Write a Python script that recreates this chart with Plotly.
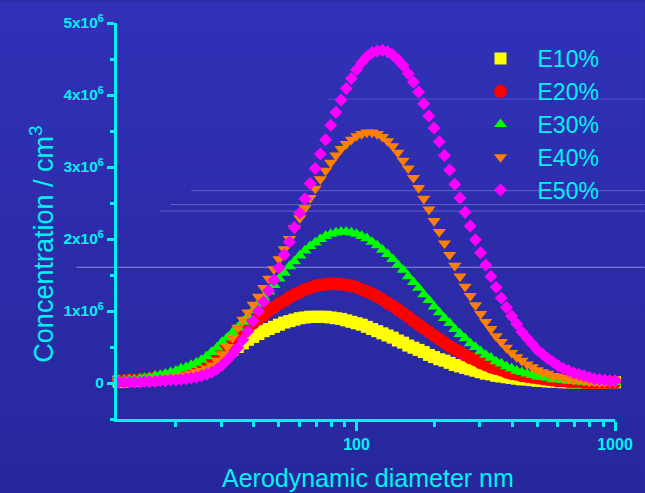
import plotly.graph_objects as go

# ---------------- data (concentration in units of 10^6 per cm3) ----------------
diameter_nm = [12.0, 12.6, 13.2, 13.8, 14.5, 15.1, 15.8, 16.6, 17.4, 18.2, 19.1, 20.0, 20.9, 21.9,
               22.9, 24.0, 25.1, 26.3, 27.5, 28.8, 30.2, 31.6, 33.1, 34.7, 36.3, 38.0, 39.8, 41.7,
               43.7, 45.7, 47.9, 50.1, 52.5, 55.0, 57.5, 60.3, 63.1, 66.1, 69.2, 72.4, 75.9, 79.4,
               83.2, 87.1, 91.2, 95.5, 100.0, 104.7, 109.6, 114.8, 120.2, 125.9, 131.8, 138.0,
               144.5, 151.4, 158.5, 166.0, 173.8, 182.0, 190.5, 199.5, 208.9, 218.8, 229.1, 239.9,
               251.2, 263.0, 275.4, 288.4, 302.0, 316.2, 331.1, 346.7, 363.1, 380.2, 398.1, 416.9,
               436.5, 457.1, 478.6, 501.2, 524.8, 549.5, 575.4, 602.6, 631.0, 660.7, 691.8, 724.4,
               758.6, 794.3, 831.8, 871.0, 912.0, 955.0, 1000.0]

e10 = [0.02, 0.02, 0.03, 0.03, 0.04, 0.04, 0.05, 0.05, 0.06, 0.07, 0.08, 0.09, 0.10, 0.12, 0.14,
       0.16, 0.19, 0.22, 0.26, 0.31, 0.37, 0.42, 0.46, 0.50, 0.55, 0.60, 0.64, 0.68, 0.72, 0.75,
       0.78, 0.81, 0.84, 0.86, 0.88, 0.90, 0.91, 0.92, 0.92, 0.92, 0.92, 0.91, 0.90, 0.89, 0.87,
       0.85, 0.83, 0.81, 0.78, 0.75, 0.72, 0.69, 0.66, 0.63, 0.59, 0.56, 0.52, 0.49, 0.46, 0.43,
       0.39, 0.36, 0.33, 0.31, 0.28, 0.25, 0.23, 0.21, 0.19, 0.17, 0.15, 0.13, 0.12, 0.10, 0.09,
       0.08, 0.07, 0.06, 0.05, 0.05, 0.04, 0.03, 0.03, 0.02, 0.02, 0.02, 0.01, 0.01, 0.01, 0.01,
       0.01, 0.01, 0.01, 0.01, 0.01, 0.01, 0.01]

e20 = [0.03, 0.03, 0.04, 0.04, 0.05, 0.05, 0.06, 0.07, 0.08, 0.09, 0.10, 0.12, 0.14, 0.16, 0.18,
       0.21, 0.25, 0.30, 0.35, 0.41, 0.47, 0.53, 0.59, 0.65, 0.71, 0.77, 0.83, 0.89, 0.94, 1.00,
       1.05, 1.10, 1.14, 1.19, 1.23, 1.26, 1.30, 1.32, 1.35, 1.36, 1.37, 1.38, 1.38, 1.37, 1.36,
       1.35, 1.33, 1.30, 1.27, 1.24, 1.20, 1.16, 1.11, 1.07, 1.02, 0.97, 0.92, 0.86, 0.81, 0.76,
       0.71, 0.66, 0.61, 0.56, 0.51, 0.47, 0.43, 0.39, 0.35, 0.32, 0.28, 0.25, 0.22, 0.20, 0.18,
       0.15, 0.13, 0.12, 0.10, 0.09, 0.08, 0.07, 0.06, 0.05, 0.04, 0.03, 0.03, 0.02, 0.02, 0.02,
       0.01, 0.01, 0.01, 0.01, 0.01, 0.01, 0.01]

e30 = [0.04, 0.04, 0.05, 0.05, 0.06, 0.07, 0.08, 0.10, 0.11, 0.13, 0.15, 0.17, 0.20, 0.22, 0.25,
       0.28, 0.32, 0.37, 0.43, 0.49, 0.57, 0.63, 0.70, 0.77, 0.85, 0.93, 1.01, 1.10, 1.19, 1.27,
       1.36, 1.45, 1.53, 1.62, 1.69, 1.77, 1.84, 1.90, 1.95, 2.00, 2.04, 2.07, 2.09, 2.10, 2.10,
       2.09, 2.07, 2.04, 2.01, 1.96, 1.91, 1.85, 1.79, 1.72, 1.64, 1.57, 1.48, 1.40, 1.32, 1.23,
       1.15, 1.06, 0.98, 0.90, 0.83, 0.75, 0.68, 0.62, 0.55, 0.50, 0.44, 0.39, 0.35, 0.30, 0.27,
       0.23, 0.20, 0.17, 0.15, 0.13, 0.11, 0.09, 0.08, 0.07, 0.05, 0.05, 0.04, 0.03, 0.03, 0.02,
       0.02, 0.01, 0.01, 0.01, 0.01, 0.01, 0.01]

e40 = [0.02, 0.02, 0.02, 0.03, 0.03, 0.04, 0.04, 0.05, 0.06, 0.07, 0.08, 0.09, 0.10, 0.11, 0.13,
       0.15, 0.17, 0.20, 0.24, 0.31, 0.40, 0.50, 0.63, 0.77, 0.88, 0.98, 1.09, 1.20, 1.32, 1.45,
       1.58, 1.72, 1.86, 2.00, 2.15, 2.29, 2.43, 2.57, 2.70, 2.83, 2.95, 3.06, 3.16, 3.25, 3.32,
       3.38, 3.43, 3.46, 3.48, 3.48, 3.46, 3.42, 3.36, 3.29, 3.20, 3.09, 2.98, 2.85, 2.71, 2.56,
       2.41, 2.25, 2.10, 1.94, 1.78, 1.63, 1.48, 1.34, 1.21, 1.08, 0.96, 0.85, 0.75, 0.65, 0.57,
       0.49, 0.42, 0.36, 0.31, 0.26, 0.22, 0.18, 0.15, 0.13, 0.10, 0.09, 0.07, 0.06, 0.05, 0.04,
       0.03, 0.02, 0.02, 0.01, 0.01, 0.01, 0.01]

e50 = [0.01, 0.01, 0.01, 0.01, 0.01, 0.02, 0.02, 0.02, 0.03, 0.03, 0.04, 0.04, 0.05, 0.06, 0.07,
       0.08, 0.10, 0.12, 0.15, 0.19, 0.25, 0.32, 0.40, 0.49, 0.60, 0.72, 0.86, 1.00, 1.13, 1.28,
       1.43, 1.60, 1.78, 1.96, 2.16, 2.36, 2.56, 2.77, 2.98, 3.18, 3.38, 3.58, 3.76, 3.93, 4.09,
       4.23, 4.35, 4.45, 4.53, 4.59, 4.61, 4.62, 4.60, 4.56, 4.49, 4.41, 4.30, 4.18, 4.04, 3.88,
       3.71, 3.54, 3.35, 3.16, 2.96, 2.76, 2.57, 2.37, 2.18, 1.99, 1.81, 1.64, 1.48, 1.33, 1.18,
       1.05, 0.93, 0.82, 0.71, 0.62, 0.54, 0.46, 0.40, 0.34, 0.29, 0.24, 0.20, 0.17, 0.14, 0.12,
       0.10, 0.08, 0.06, 0.05, 0.04, 0.03, 0.03]

series_names = ["E10%", "E20%", "E30%", "E40%", "E50%"]
series_values = [e10, e20, e30, e40, e50]

y_tick_values = [0, 1, 2, 3, 4, 5]
y_tick_labels = ["0", "1x10<sup>6</sup>", "2x10<sup>6</sup>", "3x10<sup>6</sup>",
                 "4x10<sup>6</sup>", "5x10<sup>6</sup>"]
x_tick_values = [100, 1000]
x_tick_labels = ["100", "1000"]
x_minor_ticks = [20, 30, 40, 50, 60, 70, 80, 90, 200, 300, 400, 500, 600, 700, 800, 900]
x_title = "Aerodynamic diameter nm"
y_title = "Concentration / cm<sup>3</sup>"

# ---------------- styling ----------------
W, H = 645, 493
ML, MR, MT, MB = 117, 25, 21, 74
CYAN = "#00F2F2"
FONT = "Arial, Liberation Sans, Helvetica, sans-serif"

styles = [
    dict(symbol="square", color="#FFFF00", size=12),
    dict(symbol="circle", color="#FF0000", size=13),
    dict(symbol="triangle-up", color="#00FF00", size=11.5),
    dict(symbol="triangle-down", color="#FF8000", size=11.5),
    dict(symbol="diamond", color="#FF00FF", size=10),
]


def px_x(p):
    return (p - ML) / (W - ML - MR)


def px_y(p):
    return (H - MB - p) / (H - MT - MB)


fig = go.Figure()
for name, vals, st in zip(series_names, series_values, styles):
    fig.add_trace(go.Scatter(
        x=diameter_nm, y=vals, mode="markers", name=name,
        marker=dict(symbol=st["symbol"], color=st["color"], size=st["size"],
                    line=dict(width=0)),
        cliponaxis=False,
    ))

# vertical blue gradient background
shapes = []
n_bands = 40
top_rgb = (49, 49, 184)
bot_rgb = (39, 39, 156)
for k in range(n_bands):
    t = (k + 0.5) / n_bands
    c = tuple(round(top_rgb[j] + (bot_rgb[j] - top_rgb[j]) * t) for j in range(3))
    y_top = H * k / n_bands
    y_bot = H * (k + 1) / n_bands
    shapes.append(dict(type="rect", xref="paper", yref="paper",
                       x0=px_x(-5), x1=px_x(W + 5),
                       y0=px_y(y_bot + 1), y1=px_y(y_top),
                       fillcolor="rgb(%d,%d,%d)" % c, line=dict(width=0), layer="below"))

# faint horizontal scan lines present in the picture
scan_lines = [(266.5, 76, "rgba(175,175,235,0.75)"),
              (189.5, 192, "rgba(130,130,220,0.6)"),
              (203.5, 171, "rgba(130,130,220,0.6)"),
              (210.0, 160, "rgba(130,130,220,0.6)"),
              (97.5, 330, "rgba(110,110,215,0.5)")]
for yy, xs, col in scan_lines:
    shapes.append(dict(type="line", xref="paper", yref="paper",
                       x0=px_x(xs), x1=px_x(W + 5), y0=px_y(yy), y1=px_y(yy),
                       line=dict(color=col, width=1), layer="below"))

annotations = [
    dict(text=x_title, xref="paper", yref="paper", x=px_x(371), y=px_y(478),
         xanchor="center", yanchor="middle", showarrow=False,
         font=dict(family=FONT, size=25, color=CYAN)),
    dict(text=y_title, xref="paper", yref="paper", x=px_x(41), y=px_y(243),
         xanchor="center", yanchor="middle", showarrow=False, textangle=-90,
         font=dict(family=FONT, size=27, color=CYAN)),
]

fig.update_layout(
    width=W, height=H,
    margin=dict(l=ML, r=MR, t=MT, b=MB, pad=0),
    paper_bgcolor="rgb(44,44,170)",
    plot_bgcolor="rgba(0,0,0,0)",
    shapes=shapes,
    annotations=annotations,
    font=dict(family=FONT, color=CYAN),
    showlegend=True,
    legend=dict(x=px_x(467), y=px_y(35), xanchor="left", yanchor="top",
                bgcolor="rgba(0,0,0,0)", borderwidth=0,
                font=dict(family=FONT, size=23, color=CYAN),
                itemwidth=64, tracegroupgap=0),
    xaxis=dict(
        type="log", range=[1.073, 3.0],
        showgrid=False, zeroline=False,
        showline=True, linecolor=CYAN, linewidth=3,
        ticks="outside", ticklen=9, tickwidth=3, tickcolor=CYAN,
        tickmode="array", tickvals=x_tick_values, ticktext=x_tick_labels,
        tickfont=dict(family=FONT, size=16, color=CYAN, weight="bold"),
        minor=dict(tickmode="array", tickvals=x_minor_ticks, ticks="outside",
                   ticklen=5, tickwidth=3, tickcolor=CYAN, showgrid=False),
    ),
    yaxis=dict(
        range=[-0.5, 5.0],
        showgrid=False, zeroline=False,
        showline=True, linecolor=CYAN, linewidth=3,
        ticks="outside", ticklen=7, tickwidth=3, tickcolor=CYAN,
        tickmode="array", tickvals=y_tick_values, ticktext=y_tick_labels,
        tickfont=dict(family=FONT, size=15.5, color=CYAN, weight="bold"),
        minor=dict(dtick=0.5, tick0=0, ticks="outside", ticklen=4, tickwidth=3,
                   tickcolor=CYAN, showgrid=False),
    ),
)

fig.write_html("out.html",
               config={"displayModeBar": False},
               post_script="document.body.style.margin='0px';"
                           "document.body.style.background='rgb(44,44,170)';")
